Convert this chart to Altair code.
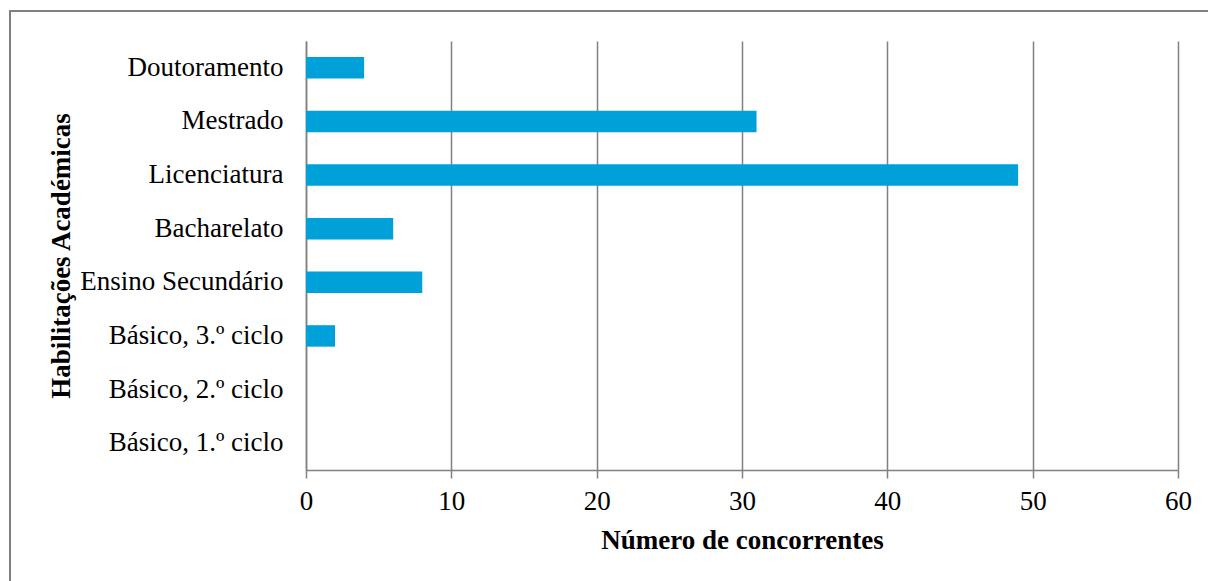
import altair as alt
import pandas as pd

categories = [
    "Doutoramento",
    "Mestrado",
    "Licenciatura",
    "Bacharelato",
    "Ensino Secundário",
    "Básico, 3.º ciclo",
    "Básico, 2.º ciclo",
    "Básico, 1.º ciclo",
]
values = [4, 31, 49, 6, 8, 2, 0, 0]
x_ticks = [0, 10, 20, 30, 40, 50, 60]

df = pd.DataFrame({"cat": categories, "val": values})

FONT = "Liberation Serif"
GRAY = "#808080"
FS = 27

bars = alt.Chart(df).mark_bar(color="#00A0D8").encode(
    x=alt.X(
        "val:Q",
        scale=alt.Scale(domain=[0, 60], nice=False),
        axis=alt.Axis(
            values=x_ticks,
            title="Número de concorrentes",
            grid=True,
            gridColor=GRAY,
            gridWidth=1.5,
            domainColor=GRAY,
            domainWidth=1.5,
            tickColor=GRAY,
            tickWidth=1.5,
            tickSize=8,
            labelPadding=10.5,
            labelFlush=False,
            labelOverlap=False,
            labelFont=FONT,
            labelFontSize=FS,
            labelColor="black",
            titleFont=FONT,
            titleFontSize=FS,
            titleFontWeight="bold",
            titleColor="black",
            titleBaseline="alphabetic",
            titleY=78,
        ),
    ),
    y=alt.Y(
        "cat:N",
        sort=categories,
        scale=alt.Scale(paddingInner=0.6, paddingOuter=0.3),
        axis=alt.Axis(
            title="Habilitações Académicas",
            ticks=False,
            grid=False,
            domainColor=GRAY,
            domainWidth=1.5,
            labelPadding=23,
            labelLimit=1000,
            labelFont=FONT,
            labelFontSize=FS,
            labelColor="black",
            titleFont=FONT,
            titleFontSize=FS,
            titleFontWeight="bold",
            titleColor="black",
            titleAngle=270,
            titleBaseline="alphabetic",
            titleAlign="center",
            titleX=-237,
            titleY=214.5,
        ),
    ),
)

frame = alt.Chart(alt.Data(values=[{"a": 1}])).mark_rect(
    fill=None, stroke=GRAY, strokeWidth=2
).encode(
    x=alt.value(-296),
    x2=alt.value(910),
    y=alt.value(-30),
    y2=alt.value(550),
)

chart = (
    alt.layer(bars, frame)
    .properties(
        width=872,
        height=429,
        autosize=alt.AutoSizeParams(type="none"),
        padding={"left": 306, "top": 41, "right": 30, "bottom": 111},
        background="white",
    )
    .configure_view(stroke=None)
)

chart.save("out.html", embed_options={"renderer": "svg", "actions": False})
